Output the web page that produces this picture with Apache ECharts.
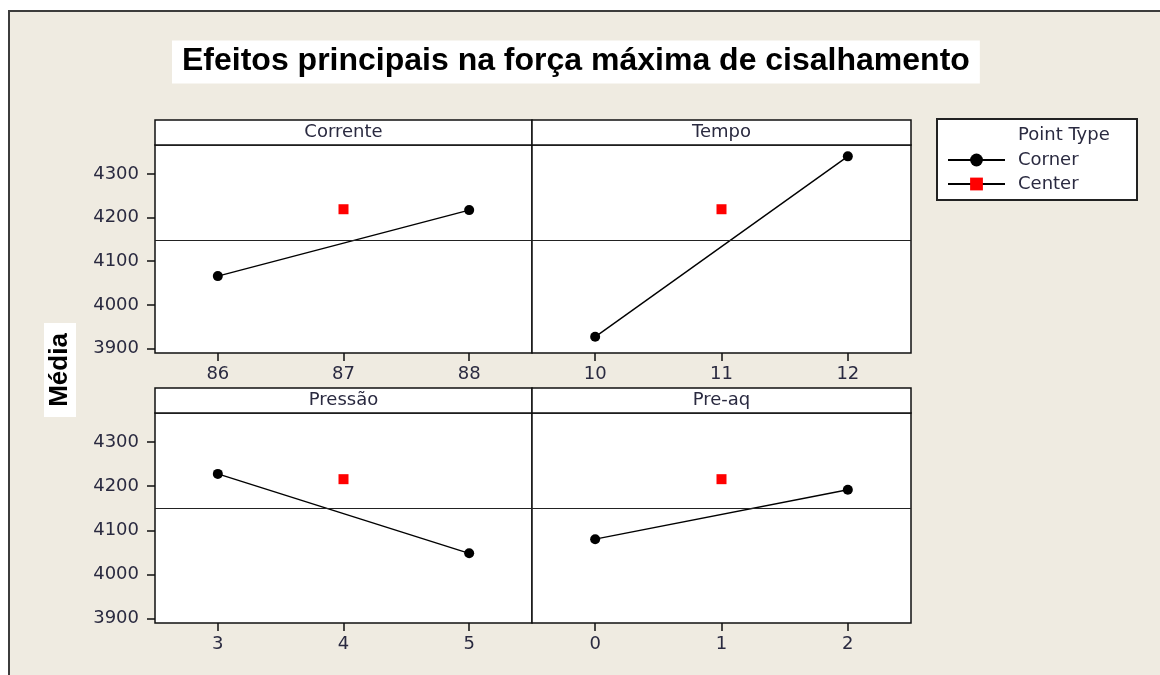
<!DOCTYPE html>
<html>
<head>
<meta charset="utf-8">
<script src="https://cdn.jsdelivr.net/npm/echarts@6/dist/echarts.min.js"></script>
<style>html,body{margin:0;padding:0;background:#fff;}</style>
</head>
<body>
<div id="main" style="width:1160px;height:675px;"></div>
<script>
    // valores
    var factors = ['Corrente', 'Tempo', 'Pressão', 'Pre-aq'];
    var levels = [[86, 87, 88], [10, 11, 12], [3, 4, 5], [0, 1, 2]];
    var cornerMeans = [[4066, 4217], [3927, 4340], [4228, 4048], [4080, 4192]];
    var centerMeans = [4219, 4219, 4216, 4216];
    var grandMean = 4149;
    var yTicks = [3900, 4000, 4100, 4200, 4300];

    var yMin = 3890, yMax = 4366;
    var textColor = '#2a2a40';
    var font = 'DejaVu Sans';

    var panels = [
        {left: 155, top: 145, width: 377, height: 208},
        {left: 532, top: 145, width: 379, height: 208},
        {left: 155, top: 413, width: 377, height: 210},
        {left: 532, top: 413, width: 379, height: 210}
    ];
    var headerH = 25;

    var chartDom = document.getElementById('main');
    var myChart = echarts.init(chartDom);

    var grids = [], xAxes = [], yAxes = [], series = [];
    var graphics = [
        // moldura de fundo
        {type: 'rect', shape: {x: 9, y: 11, width: 1170, height: 690}, z: -10,
         style: {fill: '#efebe1', stroke: '#3c3c3c', lineWidth: 2}},
        // rótulo do eixo Y
        {type: 'rect', shape: {x: 44, y: 323, width: 32, height: 94}, style: {fill: '#fff'}},
        {type: 'text', x: 60, y: 370, rotation: Math.PI / 2,
         style: {text: 'Média', font: 'bold 26px "Liberation Sans"', fill: '#000',
                 align: 'center', verticalAlign: 'middle'}},
        // caixa da legenda
        {type: 'rect', shape: {x: 937, y: 119, width: 200, height: 81},
         style: {fill: '#fff', stroke: '#222', lineWidth: 2}},
        {type: 'text', x: 1018, y: 135,
         style: {text: 'Point Type', font: '18px "DejaVu Sans"', fill: textColor,
                 align: 'left', verticalAlign: 'middle'}}
    ];

    factors.forEach(function (name, i) {
        var p = panels[i];
        var lv = levels[i];
        grids.push({
            left: p.left, top: p.top, width: p.width, height: p.height,
            show: true, backgroundColor: '#fff', borderColor: '#111', borderWidth: 1.5
        });
        graphics.push({
            type: 'rect', shape: {x: p.left, y: p.top - headerH, width: p.width, height: headerH},
            style: {fill: '#fff', stroke: '#111', lineWidth: 1.5}
        });
        graphics.push({
            type: 'text', x: p.left + p.width / 2, y: p.top - headerH / 2,
            style: {text: name, font: '18px "DejaVu Sans"', fill: textColor,
                    align: 'center', verticalAlign: 'middle'}
        });
        xAxes.push({
            type: 'value', gridIndex: i, min: lv[0] - 0.5, max: lv[2] + 0.5,
            axisLine: {show: false},
            splitLine: {show: false},
            axisTick: {show: true, length: 8, customValues: lv, lineStyle: {color: '#111', width: 1.5}},
            axisLabel: {customValues: lv, margin: 12, fontSize: 18, fontFamily: font, color: textColor}
        });
        var isLeft = (i % 2 === 0);
        yAxes.push({
            type: 'value', gridIndex: i, min: yMin, max: yMax,
            axisLine: {show: false},
            splitLine: {show: false},
            axisTick: {show: isLeft, length: 8, customValues: yTicks, lineStyle: {color: '#111', width: 1.5}},
            axisLabel: {show: isLeft, customValues: yTicks, margin: 16, fontSize: 18,
                        fontFamily: font, color: textColor,
                        formatter: function (v) { return String(v); }}
        });
        series.push({
            name: 'Corner', type: 'line', xAxisIndex: i, yAxisIndex: i,
            data: [[lv[0], cornerMeans[i][0]], [lv[2], cornerMeans[i][1]]],
            symbol: 'circle', symbolSize: 10,
            itemStyle: {color: '#000'},
            lineStyle: {color: '#000', width: 1.4},
            markLine: {
                silent: true, symbol: ['none', 'none'], label: {show: false},
                lineStyle: {color: '#222', width: 1.2, type: 'solid'},
                data: [{yAxis: grandMean}]
            },
            z: 3
        });
        series.push({
            name: 'Center', type: 'line', xAxisIndex: i, yAxisIndex: i,
            data: [[lv[1], centerMeans[i]]],
            symbol: 'rect', symbolSize: 10,
            itemStyle: {color: '#ff0000'},
            lineStyle: {color: '#000', width: 1.4},
            z: 3
        });
    });

    var option = {
        backgroundColor: '#fff',
        animation: false,
        title: {
            text: 'Efeitos principais na força máxima de cisalhamento',
            left: 172, top: 41,
            backgroundColor: '#fff',
            padding: [5, 10, 6, 10],
            textStyle: {fontSize: 32, lineHeight: 31, fontWeight: 'bold',
                        fontFamily: 'Liberation Sans', color: '#000'}
        },
        legend: {
            data: ['Corner', 'Center'],
            orient: 'vertical', left: 947, top: 151, padding: 0,
            itemWidth: 57, itemHeight: 16, itemGap: 6,
            textStyle: {fontSize: 18, fontFamily: font, color: textColor, lineHeight: 18,
                        padding: [0, 0, 0, 8]},
            z: 10
        },
        grid: grids,
        xAxis: xAxes,
        yAxis: yAxes,
        series: series,
        graphic: {elements: graphics}
    };

    myChart.setOption(option);
</script>
</body>
</html>
